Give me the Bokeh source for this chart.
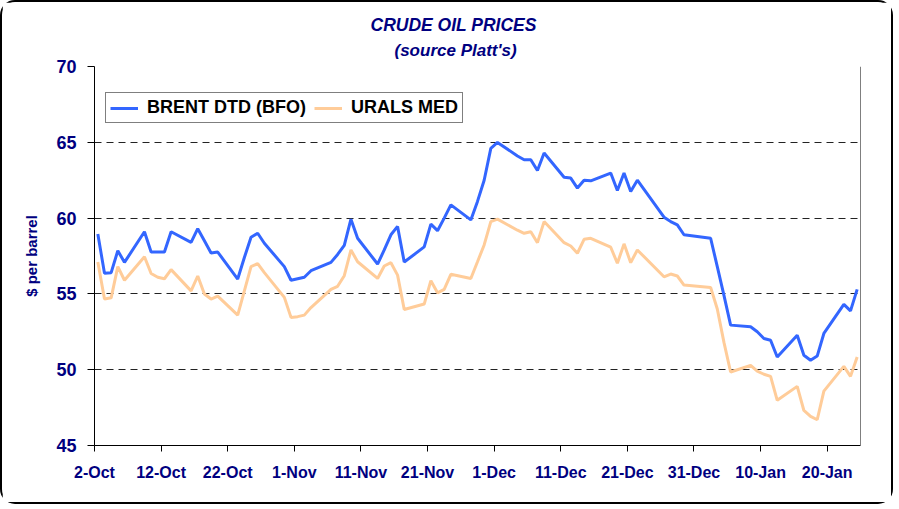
import pandas as pd
from bokeh.plotting import figure
from bokeh.models import Range1d, FixedTicker, Legend, LegendItem, Span, Title
from bokeh.embed import file_html
from bokeh.resources import INLINE

# ---------------- data ----------------
dates = [
    "2006-10-02", "2006-10-03", "2006-10-04", "2006-10-05", "2006-10-06",
    "2006-10-09", "2006-10-10", "2006-10-11", "2006-10-12", "2006-10-13",
    "2006-10-16", "2006-10-17", "2006-10-18", "2006-10-19", "2006-10-20",
    "2006-10-23", "2006-10-24", "2006-10-25", "2006-10-26", "2006-10-27",
    "2006-10-30", "2006-10-31", "2006-11-01", "2006-11-02", "2006-11-03",
    "2006-11-06", "2006-11-07", "2006-11-08", "2006-11-09", "2006-11-10",
    "2006-11-13", "2006-11-14", "2006-11-15", "2006-11-16", "2006-11-17",
    "2006-11-20", "2006-11-21", "2006-11-22", "2006-11-23", "2006-11-24",
    "2006-11-27", "2006-11-28", "2006-11-29", "2006-11-30", "2006-12-01",
    "2006-12-04", "2006-12-05", "2006-12-06", "2006-12-07", "2006-12-08",
    "2006-12-11", "2006-12-12", "2006-12-13", "2006-12-14", "2006-12-15",
    "2006-12-18", "2006-12-19", "2006-12-20", "2006-12-21", "2006-12-22",
    "2006-12-26", "2006-12-27", "2006-12-28", "2006-12-29",
    "2007-01-02", "2007-01-03", "2007-01-04", "2007-01-05",
    "2007-01-08", "2007-01-09", "2007-01-10", "2007-01-11", "2007-01-12",
    "2007-01-15", "2007-01-16", "2007-01-17", "2007-01-18", "2007-01-19",
    "2007-01-22", "2007-01-23", "2007-01-24",
]

brent = [
    58.95, 56.36, 56.40, 57.85, 57.08,
    59.10, 57.76, 57.76, 57.76, 59.10,
    58.40, 59.30, 58.50, 57.70, 57.76,
    55.98, 57.40, 58.74, 59.00, 58.34,
    56.80, 55.90, 56.00, 56.10, 56.53,
    57.08, 57.60, 58.20, 59.93, 58.67,
    56.97, 57.90, 58.90, 59.45, 57.10,
    58.10, 59.60, 59.17, 60.00, 60.87,
    59.88, 61.10, 62.50, 64.60, 64.99,
    64.10, 63.85, 63.85, 63.14, 64.29,
    62.70, 62.64, 61.98, 62.50, 62.46,
    62.97, 61.82, 62.97, 61.76, 62.50,
    60.06, 59.77, 59.55, 58.90,
    58.67, 56.80, 54.90, 52.94,
    52.83, 52.50, 52.06, 51.94, 50.84,
    52.27, 50.95, 50.62, 50.90, 52.39,
    54.31, 53.88, 55.30,
]

urals = [
    57.10, 54.66, 54.74, 56.80, 55.90,
    57.45, 56.35, 56.10, 56.00, 56.60,
    55.20, 56.18, 54.99, 54.66, 54.85,
    53.60, 55.20, 56.80, 57.00, 56.40,
    54.77, 53.45, 53.50, 53.60, 54.10,
    55.30, 55.50, 56.20, 57.90, 57.12,
    56.02, 56.84, 57.06, 56.24, 53.97,
    54.33, 55.87, 55.07, 55.30, 56.29,
    56.02, 57.12, 58.23, 59.77, 59.93,
    59.20, 59.00, 59.10, 58.38, 59.77,
    58.38, 58.16, 57.68, 58.60, 58.67,
    58.08, 57.02, 58.30, 57.06, 57.90,
    56.13, 56.31, 56.18, 55.58,
    55.43, 54.00, 51.80, 49.85,
    50.29, 49.90, 49.70, 49.56, 47.98,
    48.90, 47.31, 46.92, 46.70, 48.59,
    50.22, 49.56, 50.84,
]

tick_dates = ["2006-10-02", "2006-10-12", "2006-10-22", "2006-11-01", "2006-11-11",
              "2006-11-21", "2006-12-01", "2006-12-11", "2006-12-21", "2006-12-31",
              "2007-01-10", "2007-01-20"]
tick_labels = ["2-Oct", "12-Oct", "22-Oct", "1-Nov", "11-Nov", "21-Nov",
               "1-Dec", "11-Dec", "21-Dec", "31-Dec", "10-Jan", "20-Jan"]
y_ticks = [45, 50, 55, 60, 65, 70]
x_start, x_end = "2006-10-02", "2007-01-25"
y_start, y_end = 45, 70

series_names = ["BRENT DTD (BFO)", "URALS MED"]
series_colors = ["#3366FF", "#FFCC99"]
title_text = "CRUDE OIL PRICES"
subtitle_text = "(source Platt's)"

# ---------------- figure ----------------
NAVY = "#000080"
FONT = "Liberation Sans"

def ms(d):
    return pd.Timestamp(d).value / 1e6

x = pd.to_datetime(dates) + pd.Timedelta(hours=12)

p = figure(width=893, height=504, x_axis_type="datetime",
           x_range=Range1d(pd.Timestamp(x_start), pd.Timestamp(x_end)),
           y_range=Range1d(y_start, y_end),
           output_backend="svg", toolbar_location=None, title=None,
           min_border_left=92, min_border_right=35, min_border_top=64,
           min_border_bottom=61,
           styles={"border": "2px solid black", "border-radius": "15px"})

p.outline_line_color = None
p.background_fill_color = "white"
p.border_fill_color = "white"

r1 = p.line(x, brent, line_color=series_colors[0], line_width=3)
r2 = p.line(x, urals, line_color=series_colors[1], line_width=3)

# grid
p.xgrid.visible = False
p.ygrid.ticker = FixedTicker(ticks=y_ticks)
p.ygrid.grid_line_color = "#222222"
p.ygrid.grid_line_dash = "7 5"
p.ygrid.grid_line_width = 1

# y axis
p.yaxis.ticker = FixedTicker(ticks=y_ticks)
p.yaxis.axis_line_color = "black"
p.yaxis.major_tick_line_color = "black"
p.yaxis.major_tick_in = 0
p.yaxis.major_tick_out = 7
p.yaxis.minor_tick_line_color = None
p.yaxis.major_label_text_font = FONT
p.yaxis.major_label_text_font_style = "bold"
p.yaxis.major_label_text_font_size = "18px"
p.yaxis.major_label_text_color = NAVY
p.yaxis.major_label_standoff = 11
p.yaxis.axis_label = "$ per barrel"
p.yaxis.axis_label_text_font = FONT
p.yaxis.axis_label_text_font_style = "bold"
p.yaxis.axis_label_text_font_size = "15px"
p.yaxis.axis_label_text_color = NAVY
p.yaxis.axis_label_standoff = 13

# x axis
p.xaxis.ticker = FixedTicker(ticks=[ms(d) for d in tick_dates])
p.xaxis.major_label_overrides = {ms(d): lab for d, lab in zip(tick_dates, tick_labels)}
p.xaxis.axis_line_color = "black"
p.xaxis.major_tick_line_color = "black"
p.xaxis.major_tick_in = 0
p.xaxis.major_tick_out = 6
p.xaxis.minor_tick_line_color = None
p.xaxis.major_label_text_font = FONT
p.xaxis.major_label_text_font_style = "bold"
p.xaxis.major_label_text_font_size = "16px"
p.xaxis.major_label_text_color = NAVY
p.xaxis.major_label_standoff = 12

# right border of plot area
p.add_layout(Span(location=ms(x_end), dimension="height", line_color="black", line_width=1))

# titles (stacked above the frame; first one is a small spacer)
p.add_layout(Title(text=" ", text_font_size="4px", standoff=0), "above")
p.add_layout(Title(text=subtitle_text, align="left", offset=300, text_font=FONT,
                   text_font_style="bold italic", text_font_size="17px",
                   text_color=NAVY, standoff=0), "above")
p.add_layout(Title(text=title_text, align="left", offset=276, text_font=FONT,
                   text_font_style="bold italic", text_font_size="17.5px",
                   text_color=NAVY, standoff=8), "above")

# legend
legend = Legend(items=[LegendItem(label=series_names[0], renderers=[r1]),
                       LegendItem(label=series_names[1], renderers=[r2])],
                orientation="horizontal", location=(11, 322),
                label_text_font=FONT, label_text_font_style="bold",
                label_text_font_size="18px", label_text_color="black",
                glyph_width=28, glyph_height=18, label_standoff=9, spacing=8,
                padding=4, margin=0, border_line_color="black", border_line_width=1,
                background_fill_color="white", background_fill_alpha=1.0)
p.add_layout(legend, "center")

open("out.html", "w").write(file_html(p, INLINE))
